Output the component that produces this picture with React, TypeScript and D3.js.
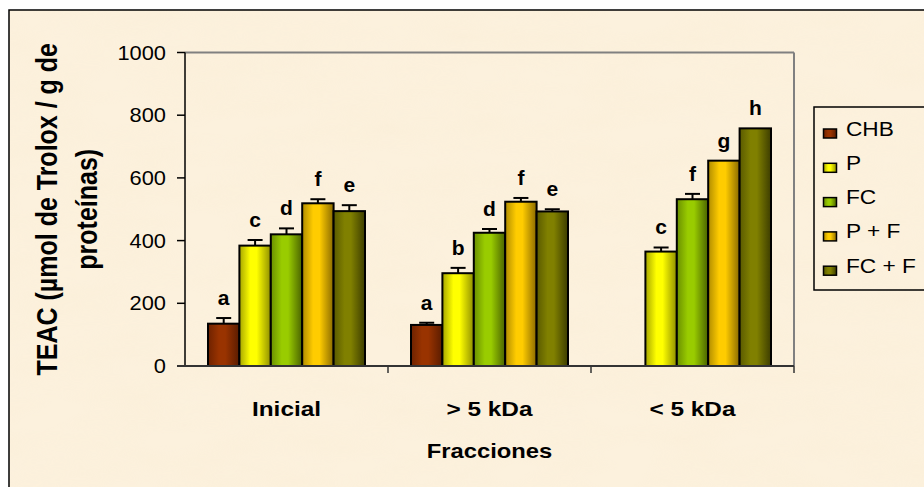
import React from 'react';
import * as d3 from 'd3';

const categories = ['Inicial', '> 5 kDa', '< 5 kDa'];
const seriesNames = ['CHB', 'P', 'FC', 'P + F', 'FC + F'];

// TEAC values per series, one per category (null = not measured)
const chbValues = [135, 131, null];
const pValues = [384, 296, 365];
const fcValues = [420, 425, 532];
const pfValues = [519, 524, 655];
const fcfValues = [494, 493, 758];

const chbErrors = [18, 7, null];
const pErrors = [18, 17, 13];
const fcErrors = [19, 12, 17];
const pfErrors = [13, 12, 0];
const fcfErrors = [19, 7, 0];

const chbLetters = ['a', 'a', ''];
const pLetters = ['c', 'b', 'c'];
const fcLetters = ['d', 'd', 'f'];
const pfLetters = ['f', 'f', 'g'];
const fcfLetters = ['e', 'e', 'h'];

const yTicks = [0, 200, 400, 600, 800, 1000];

const colors = [
  { base: '#993300', dark: '#6e2200', darker: '#5a1c00' },
  { base: '#ffff00', dark: '#a6a600', darker: '#8f8f00' },
  { base: '#99cc00', dark: '#6a8f00', darker: '#4a6300' },
  { base: '#ffcc00', dark: '#b08c00', darker: '#8a6a00' },
  { base: '#808000', dark: '#5a5a00', darker: '#3d3d00' },
];

const series = seriesNames.map((name, i) => ({
  name,
  values: [chbValues, pValues, fcValues, pfValues, fcfValues][i],
  errors: [chbErrors, pErrors, fcErrors, pfErrors, fcfErrors][i],
  letters: [chbLetters, pLetters, fcLetters, pfLetters, fcfLetters][i],
}));

const FONT = 'Arial, "Liberation Sans", Helvetica, sans-serif';

function SText({ x, y, sx = 1, anchor = 'start', size, bold = false, children }: any) {
  return (
    <text
      transform={`translate(${x},${y}) scale(${sx},1)`}
      textAnchor={anchor}
      fontFamily={FONT}
      fontSize={size}
      fontWeight={bold ? 'bold' : 'normal'}
      fill="#000"
    >
      {children}
    </text>
  );
}

export default function App() {
  const width = 924;
  const height = 487;
  const left = 185, right = 794, top = 52.5, bottom = 366;

  const x0 = d3.scaleBand().domain(categories).range([left, right]).padding(0);
  const x1 = d3.scaleBand().domain(seriesNames).range([23, 180]).padding(0);
  const y = d3.scaleLinear().domain([0, 1000]).range([bottom, top]);

  return (
    <svg width={width} height={height} style={{ position: 'absolute', left: 0, top: 0, display: 'block' }}>
      <defs>
        <filter id="paper" x="0" y="0" width="100%" height="100%">
          <feTurbulence type="fractalNoise" baseFrequency="0.012 0.035" numOctaves="3" seed="7" />
          <feColorMatrix type="matrix" values="0 0 0 0 0.95  0 0 0 0 0.84  0 0 0 0 0.66  0 0 0 0.7 -0.22" />
        </filter>
        {colors.map((c, i) => (
          <linearGradient key={i} id={`g${i}`} x1="0" x2="1" y1="0" y2="0">
            <stop offset="0%" stopColor={c.dark} />
            <stop offset="35%" stopColor={c.base} />
            <stop offset="55%" stopColor={c.base} />
            <stop offset="100%" stopColor={c.darker} />
          </linearGradient>
        ))}
      </defs>

      <rect x={0} y={0} width={width} height={height} fill="#fff" />
      <rect x={9} y={10} width={width} height={height} fill="#fcf1dd" />
      <rect x={9} y={10} width={width} height={height} filter="url(#paper)" opacity={0.75} />
      <rect x={9} y={10} width={width + 10} height={height + 10} fill="none" stroke="#000" strokeWidth={1.5} />

      {/* plot area border (top and right) */}
      <line x1={left} x2={right} y1={top} y2={top} stroke="#808080" strokeWidth={2} />
      <line x1={right} x2={right} y1={top} y2={bottom} stroke="#808080" strokeWidth={2} />

      {/* bars */}
      {categories.map((cat, ci) => (
        <g key={cat} transform={`translate(${x0(cat)},0)`}>
          {series.map((s, si) => {
            const v = s.values[ci];
            if (v == null) return null;
            const bx = x1(s.name)!;
            const bw = x1.bandwidth();
            const err = s.errors[ci] || 0;
            const capY = y(v + err);
            const cx = bx + bw / 2;
            return (
              <g key={s.name}>
                <rect x={bx} y={y(v)} width={bw} height={bottom - y(v)} fill={`url(#g${si})`} stroke="#000" strokeWidth={2} />
                {err > 0 && (
                  <g stroke="#000" strokeWidth={2}>
                    <line x1={cx} x2={cx} y1={y(v)} y2={capY} />
                    <line x1={cx - 7.5} x2={cx + 7.5} y1={capY} y2={capY} />
                  </g>
                )}
                {s.letters[ci] && (
                  <SText x={cx} y={capY - 13} anchor="middle" size={21} bold>
                    {s.letters[ci]}
                  </SText>
                )}
              </g>
            );
          })}
        </g>
      ))}

      {/* y axis */}
      <line x1={left} x2={left} y1={top} y2={bottom} stroke="#000" strokeWidth={1.5} />
      {yTicks.map(t => (
        <g key={t}>
          <line x1={left - 8} x2={left} y1={y(t)} y2={y(t)} stroke="#000" strokeWidth={1.5} />
          <SText x={166} y={y(t) + 7} anchor="end" size={19.5} sx={1.12}>{t}</SText>
        </g>
      ))}

      {/* x axis */}
      <line x1={left - 8} x2={right} y1={bottom} y2={bottom} stroke="#333" strokeWidth={2} />
      {categories.map((cat, i) => (
        <line key={i} x1={x0(cat)! + x0.bandwidth()} x2={x0(cat)! + x0.bandwidth()} y1={bottom} y2={bottom + 7} stroke="#333" strokeWidth={1.5} />
      ))}
      {categories.map(cat => (
        <SText key={cat} x={x0(cat)! + x0.bandwidth() / 2} y={416} anchor="middle" size={19.5} sx={1.25} bold>
          {cat}
        </SText>
      ))}
      <SText x={(left + right) / 2} y={458} anchor="middle" size={19.5} sx={1.22} bold>Fracciones</SText>

      {/* y title */}
      <g transform={`translate(57,${(top + bottom) / 2}) scale(1.2,1) rotate(-90)`}>
        <text textAnchor="middle" fontFamily={FONT} fontSize={25} fontWeight="bold">TEAC (µmol de Trolox / g de</text>
        <text y={33} textAnchor="middle" fontFamily={FONT} fontSize={25} fontWeight="bold">proteínas)</text>
      </g>

      {/* legend */}
      <rect x={814} y={107} width={200} height={183} fill="none" stroke="#000" strokeWidth={1.5} />
      {series.map((s, i) => {
        const by = 135 + i * 34.3;
        return (
          <g key={s.name}>
            <rect x={823.5} y={by - 6} width={13} height={9} fill={`url(#g${i})`} stroke="#000" strokeWidth={1.5} />
            <SText x={846} y={by + 0.5} size={21} sx={1.08}>{s.name}</SText>
          </g>
        );
      })}
    </svg>
  );
}
